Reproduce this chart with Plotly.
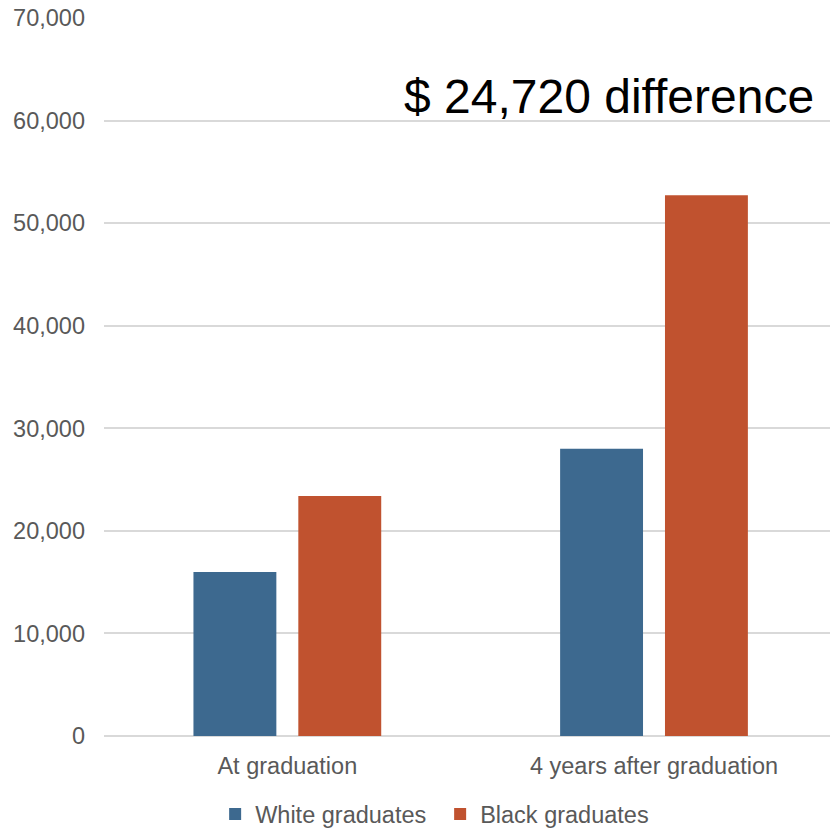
import plotly.graph_objects as go

categories = ["At graduation", "4 years after graduation"]
white_values = [16000, 28000]
black_values = [23400, 52720]
y_ticks = [0, 10000, 20000, 30000, 40000, 50000, 60000, 70000]
y_tick_labels = ["0", "10,000", "20,000", "30,000", "40,000", "50,000", "60,000", "70,000"]
annotation_text = "$ 24,720 difference"

FONT = "Liberation Sans, Arial, sans-serif"
GREY = "#595959"

fig = go.Figure()
fig.add_trace(go.Bar(name="White graduates", x=categories, y=white_values,
                     marker=dict(color="#3D698F", line=dict(width=0))))
fig.add_trace(go.Bar(name="Black graduates", x=categories, y=black_values,
                     marker=dict(color="#C0522F", line=dict(width=0))))

fig.add_annotation(text=annotation_text, xref="paper", yref="y", x=0.981, y=62300,
                   xanchor="right", yanchor="middle", showarrow=False,
                   font=dict(family=FONT, size=48, color="#000000"))

fig.update_layout(
    width=830, height=829,
    margin=dict(l=104, r=0, t=18, b=93, autoexpand=False),
    paper_bgcolor="white", plot_bgcolor="white",
    barmode="group", bargap=0.428, bargroupgap=0.2095,
    font=dict(family=FONT, size=23, color=GREY),
    showlegend=True,
    legend=dict(orientation="h", x=0.463, xanchor="center", y=-0.109, yanchor="middle",
                font=dict(family=FONT, size=23.5, color=GREY),
                itemsizing="constant", traceorder="normal",
                entrywidth=180, entrywidthmode="pixels"),
    xaxis=dict(type="category", range=[-0.5, 1.48], showgrid=False, showline=False,
               zeroline=False, ticks="", ticklabelstandoff=13,
               tickfont=dict(family=FONT, size=23.5, color=GREY),
               fixedrange=True),
    yaxis=dict(range=[0, 70000], tickvals=y_ticks, ticktext=y_tick_labels,
               showgrid=True, gridcolor="#D9D9D9", gridwidth=2,
               zeroline=True, zerolinecolor="#D9D9D9", zerolinewidth=2,
               showline=False, ticks="", ticklabelstandoff=18,
               tickfont=dict(family=FONT, size=23.5, color=GREY), fixedrange=True),
)

fig.write_html("out.html")
